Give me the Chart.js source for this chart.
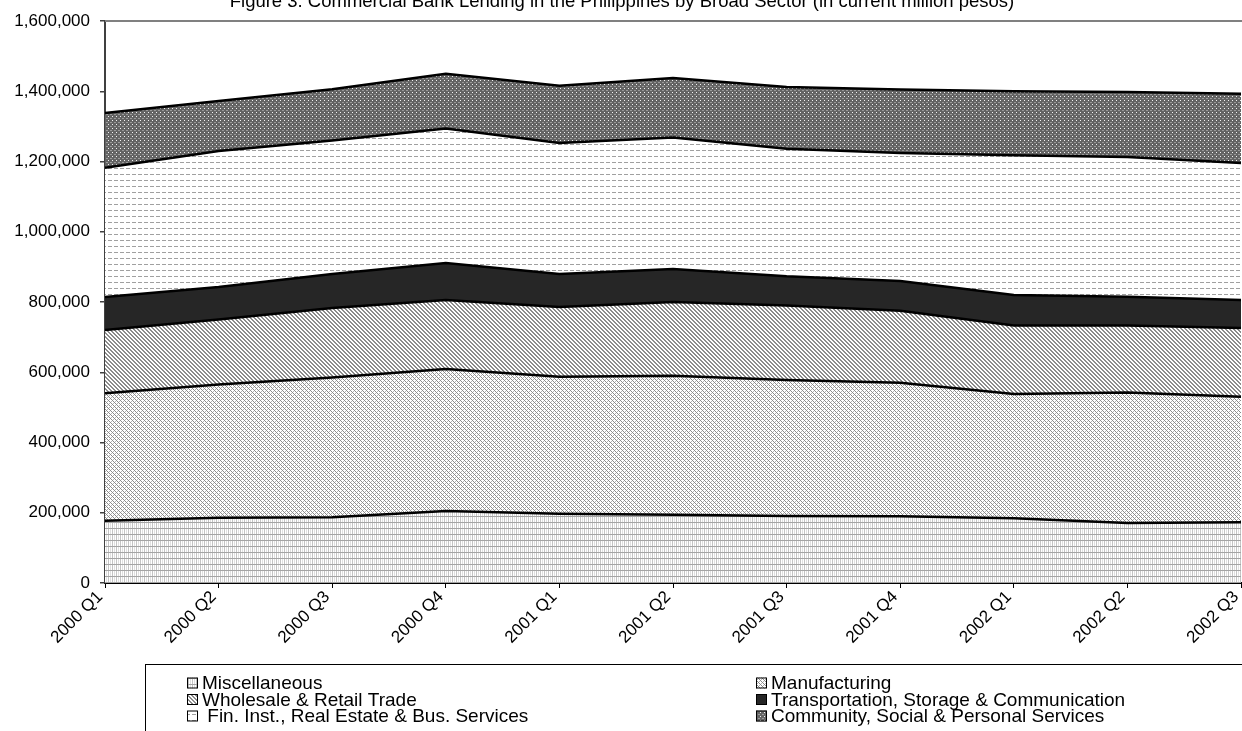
<!DOCTYPE html>
<html>
<head>
<meta charset="utf-8">
<script src="https://cdn.jsdelivr.net/npm/chart.js@4.4.1/dist/chart.umd.min.js"></script>
<style>
  html, body { margin: 0; padding: 0; background: #fff; }
  #wrap { width: 1242px; height: 731px; position: relative; overflow: hidden; }
</style>
</head>
<body>
<div id="wrap"><canvas id="chart" width="1242" height="731"></canvas></div>
<script>
// Quarterly outstanding loans, current million pesos
const chartTitle = 'Figure 3. Commercial Bank Lending in the Philippines by Broad Sector (in current million pesos)';
const quarters = ['2000 Q1', '2000 Q2', '2000 Q3', '2000 Q4', '2001 Q1', '2001 Q2',
                  '2001 Q3', '2001 Q4', '2002 Q1', '2002 Q2', '2002 Q3'];
const miscellaneous  = [177000, 186000, 187000, 205000, 197000, 194000, 191000, 190000, 184000, 171000, 173000];
const manufacturing  = [363000, 379000, 398000, 404000, 390000, 396000, 387000, 380000, 354000, 371000, 357000];
const wholesaleTrade = [180000, 185000, 198000, 197000, 199000, 210000, 212000, 205000, 195000, 191000, 196000];
const transportComm  = [94000, 93000, 97000, 105000, 94000, 94000, 83000, 85000, 87000, 82000, 80000];
const finRealEstate  = [368000, 387000, 380000, 383000, 373000, 374000, 363000, 364000, 398000, 398000, 390000];
const communitySvc   = [156000, 142000, 146000, 156000, 163000, 170000, 176000, 181000, 182000, 185000, 197000];
const sectorNames = ['Miscellaneous', 'Manufacturing', 'Wholesale & Retail Trade',
                     'Transportation, Storage & Communication',
                     ' Fin. Inst., Real Estate & Bus. Services',
                     'Community, Social & Personal Services'];
const yTicks = [0, 200000, 400000, 600000, 800000, 1000000, 1200000, 1400000, 1600000];

const FONT = '"Liberation Sans", Arial, sans-serif';
Chart.defaults.font.family = FONT;
Chart.defaults.color = '#000';

// Small repeating tiles used as area fills
function tile(w, h, paint) {
  const c = document.createElement('canvas');
  c.width = w; c.height = h;
  const g = c.getContext('2d');
  paint(g);
  return g.createPattern(c, 'repeat');
}
function px(g, color, pts) {
  g.fillStyle = color;
  pts.forEach(p => g.fillRect(p[0], p[1], p[2] || 1, p[3] || 1));
}
const fills = [
  // fine grid
  tile(4, 6, g => {
    px(g, '#fff', [[0, 0, 4, 6]]);
    px(g, '#c4c4c4', [[0, 0, 1, 6]]);
    px(g, '#e0e0e0', [[2, 0, 1, 6]]);
    px(g, '#a4a4a4', [[0, 0, 4, 1]]);
  }),
  // dotted diagonal
  tile(4, 4, g => {
    px(g, '#fff', [[0, 0, 4, 4]]);
    px(g, '#8a8a8a', [[0, 0], [1, 1], [2, 2], [3, 3]]);
    px(g, '#b4b4b4', [[3, 1], [1, 3]]);
  }),
  // downward diagonal stripes
  tile(4, 4, g => {
    px(g, '#fff', [[0, 0, 4, 4]]);
    for (let y = 0; y < 4; y++) px(g, '#8c8c8c', [[y % 4, y], [(y + 1) % 4, y]]);
  }),
  // solid dark
  '#262626',
  // dashed horizontal
  tile(6, 6, g => {
    px(g, '#fff', [[0, 0, 6, 6]]);
    px(g, '#a0a0a0', [[0, 0, 4, 1]]);
  }),
  // dark dotted
  tile(4, 4, g => {
    px(g, '#646464', [[0, 0, 4, 4]]);
    px(g, '#f4f4f4', [[0, 0]]);
    px(g, '#9a9a9a', [[2, 2, 2, 1]]);
  })
];

const series = [miscellaneous, manufacturing, wholesaleTrade, transportComm, finRealEstate, communitySvc];
const datasets = series.map((vals, i) => ({
  label: sectorNames[i],
  data: vals,
  backgroundColor: fills[i],
  borderColor: '#000',
  borderWidth: 2.5,
  pointRadius: 0,
  tension: 0,
  fill: i === 0 ? 'origin' : '-1'
}));

// Title drawn near the top edge
const titlePlugin = {
  id: 'topTitle',
  afterDraw(chart) {
    const ctx = chart.ctx;
    ctx.save();
    ctx.font = '18.5px ' + FONT;
    ctx.fillStyle = '#000';
    ctx.textAlign = 'center';
    ctx.textBaseline = 'alphabetic';
    ctx.fillText(chartTitle, 622, 7);
    ctx.restore();
  }
};

// Gray frame line along the top of the plot area
const framePlugin = {
  id: 'frame',
  afterDatasetsDraw(chart) {
    const a = chart.chartArea, ctx = chart.ctx;
    ctx.save();
    ctx.strokeStyle = '#808080';
    ctx.lineWidth = 2;
    ctx.beginPath();
    ctx.moveTo(a.left, a.top);
    ctx.lineTo(a.right + 1, a.top);
    ctx.stroke();
    ctx.restore();
  }
};

// Two-column boxed legend under the axis labels
const legendPlugin = {
  id: 'boxLegend',
  afterDraw(chart) {
    const ctx = chart.ctx;
    ctx.save();
    ctx.strokeStyle = '#000';
    ctx.lineWidth = 1;
    ctx.strokeRect(145.5, 664.5, 1110, 80);
    const cols = [187, 756];
    const rows = [683, 699.5, 716];
    ctx.font = '19px ' + FONT;
    ctx.textBaseline = 'middle';
    ctx.textAlign = 'left';
    chart.data.datasets.forEach((ds, i) => {
      const x = cols[i % 2], y = rows[Math.floor(i / 2)];
      ctx.fillStyle = ds.backgroundColor;
      ctx.fillRect(x, y - 5.5, 11, 11);
      ctx.strokeStyle = '#000';
      ctx.strokeRect(x + 0.5, y - 5, 10, 10);
      ctx.fillStyle = '#000';
      ctx.fillText(ds.label, x + 15, y + 1);
    });
    ctx.restore();
  }
};

new Chart(document.getElementById('chart'), {
  type: 'line',
  data: { labels: quarters, datasets },
  options: {
    responsive: false,
    animation: false,
    devicePixelRatio: 1,
    layout: { padding: { top: 21, right: 1, left: 0, bottom: 0 } },
    plugins: { legend: { display: false }, tooltip: { enabled: false }, title: { display: false } },
    scales: {
      x: {
        type: 'category',
        offset: false,
        grid: { drawOnChartArea: false, drawTicks: true, tickLength: 5, color: '#000', lineWidth: 1 },
        border: { display: true, color: '#000', width: 2 },
        ticks: { minRotation: 45, maxRotation: 45, padding: -1, labelOffset: -5, font: { size: 17 }, color: '#000', autoSkip: false },
        afterFit(s) { s.height = 148; s.paddingLeft = 0; s.paddingRight = 0; }
      },
      y: {
        stacked: true,
        min: 0,
        max: 1600000,
        afterBuildTicks(s) { s.ticks = yTicks.map(v => ({ value: v })); },
        grid: { drawOnChartArea: false, drawTicks: true, tickLength: 5, color: '#404040', lineWidth: 1.5 },
        border: { display: true, color: '#404040', width: 2 },
        ticks: {
          padding: 10,
          font: { size: 17 },
          color: '#000',
          callback: v => v.toLocaleString('en-US')
        },
        afterFit(s) { s.width = 105; s.paddingTop = 0; s.paddingBottom = 0; }
      }
    }
  },
  plugins: [titlePlugin, framePlugin, legendPlugin]
});
</script>
</body>
</html>
